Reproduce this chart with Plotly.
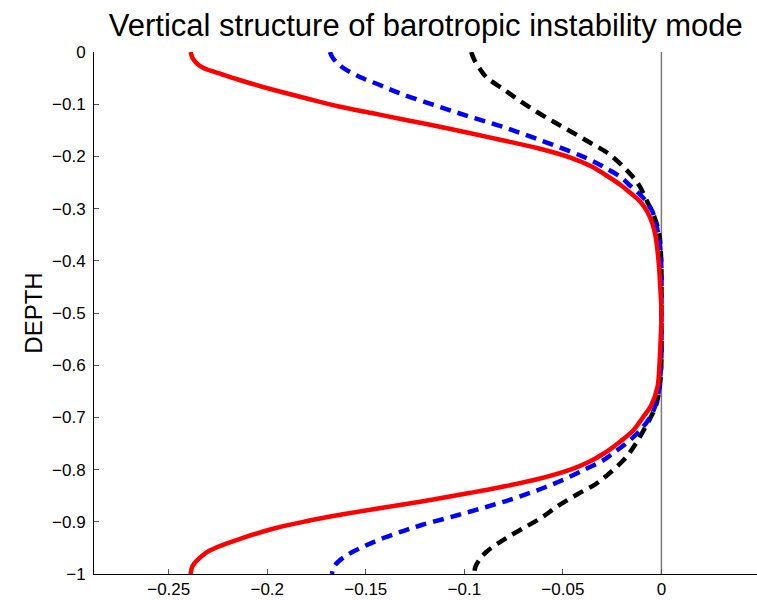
import plotly.graph_objects as go

# Depth (y) and mode amplitude (x)
red_depth = [0, -0.0115, -0.0211, -0.0307, -0.0431, -0.0536, -0.0718, -0.0881, -0.1044, -0.1169,
             -0.1299, -0.1360, -0.1552, -0.1686, -0.1839, -0.2031, -0.2184, -0.2356, -0.2548,
             -0.2701, -0.2874, -0.3065, -0.3295, -0.3525, -0.3985, -0.4559, -0.5,
             -0.5613, -0.5996, -0.6418, -0.6762, -0.7011, -0.7241, -0.7471, -0.7682, -0.7854,
             -0.7989, -0.8185, -0.8333, -0.8448, -0.8611, -0.8764, -0.8870, -0.8994, -0.9138,
             -0.9330, -0.9483, -0.9598, -0.9732, -0.9847, -1.0]
red_val = [-0.2389, -0.2379, -0.2359, -0.2323, -0.2227, -0.2141, -0.1975, -0.1808, -0.1636, -0.1470,
           -0.1303, -0.1217, -0.0975, -0.0813, -0.0631, -0.0455, -0.0359, -0.0283, -0.0207,
           -0.0157, -0.0106, -0.0071, -0.0045, -0.0030, -0.0015, -0.0005, 0.0,
           -0.0005, -0.0010, -0.0020, -0.0051, -0.0096, -0.0141, -0.0212, -0.0288, -0.0369,
           -0.0455, -0.0631, -0.0813, -0.0975, -0.1217, -0.1470, -0.1636, -0.1808, -0.1975,
           -0.2141, -0.2253, -0.2313, -0.2354, -0.2379, -0.2389]

blue_depth = [0, -0.0115, -0.0287, -0.0479, -0.0632, -0.0805, -0.1025, -0.1236, -0.1437, -0.1667,
              -0.1916, -0.2069, -0.2222, -0.2395, -0.2567, -0.2739, -0.2893, -0.3065, -0.3257,
              -0.3506, -0.3793, -0.4176, -0.5,
              -0.5805, -0.6188, -0.6533, -0.6916, -0.7126, -0.7299, -0.7490, -0.7663, -0.7816,
              -0.7989, -0.8180, -0.8333, -0.8467, -0.8602, -0.8716, -0.8831, -0.8937, -0.9061,
              -0.9167, -0.9301, -0.9464, -0.9617, -0.9751, -0.9866, -1.0]
blue_val = [-0.1682, -0.1667, -0.1621, -0.1530, -0.1429, -0.1318, -0.1146, -0.0975, -0.0803, -0.0631,
            -0.0455, -0.0359, -0.0283, -0.0207, -0.0157, -0.0106, -0.0071, -0.0045, -0.0030,
            -0.0015, -0.0005, 0.0, 0.0,
            0.0, -0.0005, -0.0015, -0.0045, -0.0081, -0.0121, -0.0177, -0.0237, -0.0293,
            -0.0384, -0.0490, -0.0586, -0.0682, -0.0788, -0.0889, -0.0995, -0.1096, -0.1217,
            -0.1303, -0.1404, -0.1505, -0.1586, -0.1636, -0.1662, -0.1672]

black_depth = [0, -0.0153, -0.0307, -0.0479, -0.0709, -0.0939, -0.1149, -0.1341, -0.1533, -0.1743,
               -0.1935, -0.2203, -0.2510, -0.2874, -0.3218, -0.3506, -0.3697, -0.4176, -0.5,
               -0.5900, -0.6284, -0.6571, -0.6801, -0.7011, -0.7184, -0.7510, -0.7797, -0.8084,
               -0.8276, -0.8467, -0.8697, -0.8927, -0.9157, -0.9349, -0.9579, -0.9732, -0.9866, -1.0]
black_val = [-0.0965, -0.0949, -0.0924, -0.0889, -0.0803, -0.0717, -0.0631, -0.0545, -0.0455, -0.0359,
             -0.0273, -0.0192, -0.0121, -0.0071, -0.0030, -0.0010, -0.0005, 0.0, 0.0,
             0.0, -0.0005, -0.0015, -0.0030, -0.0056, -0.0081, -0.0131, -0.0187, -0.0268,
             -0.0333, -0.0424, -0.0525, -0.0611, -0.0717, -0.0803, -0.0889, -0.0924, -0.0944, -0.0949]

zero_line_x = [0, 0]
zero_line_y = [0, -1]

x_ticks = [-0.25, -0.2, -0.15, -0.1, -0.05, 0]
x_labels = ["\u22120.25", "\u22120.2", "\u22120.15", "\u22120.1", "\u22120.05", "0"]
y_ticks = [0, -0.1, -0.2, -0.3, -0.4, -0.5, -0.6, -0.7, -0.8, -0.9, -1]
y_labels = ["0", "\u22120.1", "\u22120.2", "\u22120.3", "\u22120.4", "\u22120.5",
            "\u22120.6", "\u22120.7", "\u22120.8", "\u22120.9", "\u22121"]

FONT = "Liberation Sans, Arial, sans-serif"

fig = go.Figure()
fig.add_trace(go.Scatter(x=zero_line_x, y=zero_line_y, mode="lines",
                         line=dict(color="#7a7a7a", width=1.5), hoverinfo="skip"))
fig.add_trace(go.Scatter(x=black_val, y=black_depth, mode="lines",
                         line=dict(color="black", width=4.5, dash="11px,7px", shape="spline", smoothing=1.0)))
fig.add_trace(go.Scatter(x=blue_val, y=blue_depth, mode="lines",
                         line=dict(color="blue", width=4.5, dash="11px,7px", shape="spline", smoothing=1.0)))
fig.add_trace(go.Scatter(x=red_val, y=red_depth, mode="lines",
                         line=dict(color="red", width=4.5, shape="spline", smoothing=1.0)))

fig.update_layout(
    width=757, height=600,
    margin=dict(l=94, r=0, t=52, b=26),
    paper_bgcolor="white", plot_bgcolor="white",
    showlegend=False,
    font=dict(family=FONT, color="black"),
    title=dict(text="Vertical structure of barotropic instability mode",
               font=dict(size=31, family=FONT, color="black"),
               x=0.5625, xanchor="center", y=0.958, yanchor="middle"),
)
fig.update_xaxes(range=[-0.2879, 0.0485], tickvals=x_ticks, ticktext=x_labels,
                 showgrid=False, zeroline=False, showline=True, linecolor="black", linewidth=1,
                 ticks="inside", ticklen=5, tickcolor="#555", tickfont=dict(size=17),
                 mirror=False)
fig.update_yaxes(range=[-1, 0], tickvals=y_ticks, ticktext=y_labels,
                 showgrid=False, zeroline=False, showline=True, linecolor="black", linewidth=1,
                 ticks="inside", ticklen=5, tickcolor="#555", tickfont=dict(size=17),
                 ticklabelstandoff=4,
                 title=dict(text="DEPTH", font=dict(size=24), standoff=2),
                 mirror=False)

fig.write_html("out.html")
